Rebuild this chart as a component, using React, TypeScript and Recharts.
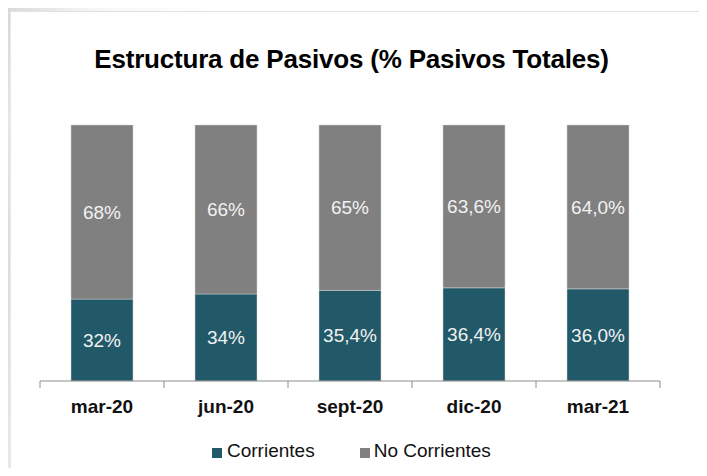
import { BarChart, Bar, XAxis, YAxis, LabelList } from 'recharts';

const periods = ['mar-20', 'jun-20', 'sept-20', 'dic-20', 'mar-21'];
const corrientes = [32, 34, 35.4, 36.4, 36.0];
const noCorrientes = [68, 66, 64.6, 63.6, 64.0];
const corrientesLabels = ['32%', '34%', '35,4%', '36,4%', '36,0%'];
const noCorrientesLabels = ['68%', '66%', '65%', '63,6%', '64,0%'];
const seriesNames = ['Corrientes', 'No Corrientes'];
const seriesColors = ['#215968', '#808080'];

const data = periods.map((p, i) => ({
    name: p,
    corr: corrientes[i],
    noCorr: noCorrientes[i],
    corrLabel: corrientesLabels[i],
    noCorrLabel: noCorrientesLabels[i],
}));

const FONT = '"Liberation Sans", Arial, sans-serif';
const BAND = 124;

function PeriodTick({ x, y, payload, index }: any) {
    const left = x - BAND / 2;
    return (
        <g>
            <line x1={left} y1={y - 8} x2={left} y2={y - 1} stroke="#8c8c8c" />
            {index === periods.length - 1 && (
                <line x1={left + BAND} y1={y - 8} x2={left + BAND} y2={y - 1} stroke="#8c8c8c" />
            )}
            <text x={x} y={y + 24} textAnchor="middle" fontFamily={FONT} fontSize={19} fontWeight="bold" fill="#111">
                {payload.value}
            </text>
        </g>
    );
}

export default function App() {
    return (
        <div style={{ position: 'relative', width: 707, height: 476, margin: -8, background: '#fff', overflow: 'hidden' }}>
            <div style={{ position: 'absolute', left: 0, top: 0, width: 10, height: 476, background: 'linear-gradient(180deg, #d6d6d6 0%, #e4e6ee 25%, #dcdcdc 55%, #e9e9e9 100%)' }} />
            <div style={{ position: 'absolute', left: 10, top: 0, width: 697, height: 11, background: 'linear-gradient(90deg, #dadada 0%, #f6f6f6 12%, #fff 30%)' }} />
            <div style={{ position: 'absolute', left: 10, top: 11, width: 697, height: 1, background: '#e2e2e2' }} />
            <div style={{ position: 'absolute', left: 10, top: 11, width: 1, height: 465, background: '#e8e8e8' }} />
            <div style={{ position: 'absolute', left: 0, top: 44, width: 703, textAlign: 'center', fontFamily: FONT, fontSize: 26, fontWeight: 'bold', color: '#000', letterSpacing: -0.2 }}>
                Estructura de Pasivos (% Pasivos Totales)
            </div>
            <div style={{ position: 'absolute', left: 0, top: 0 }}>
                <BarChart width={707} height={476} data={data} margin={{ top: 125, right: 47, left: 40, bottom: 65 }} barCategoryGap={31}>
                    <YAxis hide domain={[0, 100]} />
                    <XAxis
                        dataKey="name"
                        height={30}
                        axisLine={{ stroke: '#8c8c8c' }}
                        tickLine={false}
                        interval={0}
                        tick={<PeriodTick />}
                    />
                    <Bar dataKey="corr" stackId="a" fill={seriesColors[0]} stroke="#d0d0d0" strokeWidth={0.5} isAnimationActive={false}>
                        <LabelList dataKey="corrLabel" position="center" fill="#f2f2f2" fontSize={19} fontFamily={FONT} />
                    </Bar>
                    <Bar dataKey="noCorr" stackId="a" fill={seriesColors[1]} stroke="#d0d0d0" strokeWidth={0.5} isAnimationActive={false}>
                        <LabelList dataKey="noCorrLabel" position="center" fill="#f2f2f2" fontSize={19} fontFamily={FONT} />
                    </Bar>
                </BarChart>
            </div>
            <div style={{ position: 'absolute', top: 440, left: 212, display: 'flex', alignItems: 'center', fontFamily: FONT, fontSize: 19, color: '#111' }}>
                <span style={{ width: 10, height: 10, background: seriesColors[0], marginRight: 5, marginTop: 3 }} />
                <span style={{ marginRight: 45 }}>{seriesNames[0]}</span>
                <span style={{ width: 10, height: 10, background: seriesColors[1], marginRight: 4, marginTop: 3 }} />
                <span>{seriesNames[1]}</span>
            </div>
        </div>
    );
}
